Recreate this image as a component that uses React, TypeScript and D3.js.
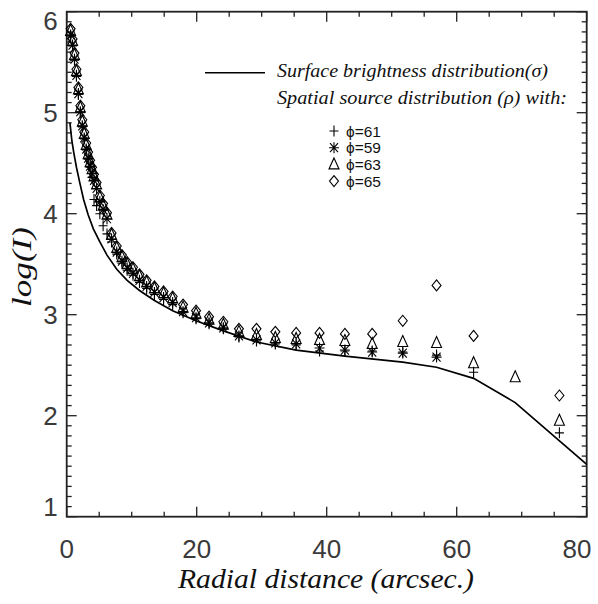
import React from "react";
import * as d3 from "d3";

// Radii (arcsec) at which the source distributions are sampled
const RADII = [0.6, 0.9, 1.2, 1.5, 1.8, 2.1, 2.4, 2.7, 3.0, 3.3, 3.6, 3.9, 4.2, 4.6, 5.1, 5.6, 6.2, 6.9, 7.7, 8.5, 9.3, 10.2, 11.2, 12.3, 13.5, 14.9, 16.3, 17.9, 19.9, 21.9, 24.1, 26.5, 29.2, 32.1, 35.3, 38.9, 42.8, 47.0, 51.7, 56.9, 62.6, 69.0, 75.8];

// phi = 61 (plus)
const PHI61: (number | null)[] = [5.76, 5.66, 5.52, 5.36, 5.18, 5.0, 4.86, 4.74, 4.63, 4.54, 4.46, 4.36, 4.14, 4.08, 4.0, 3.88, 3.8, 3.72, 3.6, 3.51, 3.44, 3.39, 3.32, 3.26, 3.2, 3.15, 3.1, 3.02, 2.96, 2.91, 2.86, 2.78, 2.74, 2.71, 2.7, 2.64, 2.64, 2.64, 2.63, 2.6, 2.43, null, 1.83];
// phi = 59 (asterisk)
const PHI59: (number | null)[] = [5.77, 5.67, 5.53, 5.37, 5.19, 5.01, 4.87, 4.75, 4.64, 4.55, 4.47, 4.4, 4.33, 4.25, 4.12, 4.04, 3.95, 3.75, 3.62, 3.53, 3.46, 3.41, 3.34, 3.28, 3.22, 3.17, 3.12, 3.03, 2.97, 2.92, 2.87, 2.79, 2.75, 2.72, 2.71, 2.67, 2.65, 2.63, 2.62, 2.58, null, null, null];
// phi = 63 (triangle)
const PHI63: (number | null)[] = [5.81, 5.71, 5.57, 5.41, 5.23, 5.05, 4.91, 4.79, 4.68, 4.59, 4.51, 4.44, 4.37, 4.29, 4.16, 4.08, 3.99, 3.79, 3.66, 3.57, 3.5, 3.45, 3.38, 3.32, 3.26, 3.21, 3.16, 3.07, 3.01, 2.95, 2.9, 2.83, 2.8, 2.77, 2.76, 2.75, 2.74, 2.71, 2.73, 2.72, 2.52, 2.38, 1.95];
// phi = 65 (diamond)
const PHI65: (number | null)[] = [5.83, 5.73, 5.59, 5.43, 5.25, 5.07, 4.93, 4.81, 4.7, 4.61, 4.53, 4.46, 4.39, 4.31, 4.18, 4.1, 4.01, 3.81, 3.68, 3.59, 3.52, 3.47, 3.4, 3.34, 3.28, 3.23, 3.18, 3.1, 3.04, 2.98, 2.93, 2.86, 2.86, 2.83, 2.82, 2.82, 2.81, 2.81, 2.94, 3.29, 2.79, null, 2.2];

// Surface brightness distribution (sigma)
const SIGMA_R = [0.5, 0.8, 1.1, 1.5, 2.0, 2.6, 3.3, 4.1, 5.1, 6.2, 7.7, 9.3, 11.2, 13.5, 16.3, 19.9, 24.1, 29.2, 35.3, 42.8, 51.7, 56.9, 62.6, 69.0, 83.4];
const SIGMA_V = [4.9, 4.72, 4.6, 4.46, 4.31, 4.14, 3.99, 3.85, 3.72, 3.59, 3.45, 3.34, 3.24, 3.14, 3.04, 2.94, 2.84, 2.73, 2.65, 2.59, 2.53, 2.48, 2.37, 2.13, 1.33];

const X_TICKS = [0, 20, 40, 60, 80];
const Y_TICKS = [1, 2, 3, 4, 5, 6];

const LEGEND_ITEMS = [
  { sym: "plus", label: "ϕ=61" },
  { sym: "star", label: "ϕ=59" },
  { sym: "tri", label: "ϕ=63" },
  { sym: "dia", label: "ϕ=65" },
];

const W = 598, H = 604;
const L = 66.7, R = 586.7, T = 11.7, B = 516.7;

function symPath(sym: string): string {
  switch (sym) {
    case "plus":
      return "M-4.5,0H4.5M0,-5.5V5.5";
    case "star":
      return "M0,-5.5V5.5M-5,0H5M-4,-4.5L4,4.5M-4,4.5L4,-4.5";
    case "tri":
      return "M0,-6.5L5,4.5L-5,4.5Z";
    case "dia":
      return "M0,-5.5L4.5,0L0,5.5L-4.5,0Z";
  }
  return "";
}

export default function App() {
  const x = d3.scaleLinear().domain([0, 80]).range([L, R]);
  const y = d3.scaleLinear().domain([1, 6]).range([B, T]);

  const line = d3
    .line<number>()
    .x((_, i) => x(SIGMA_R[i]))
    .y((d) => y(d));

  const series = [
    { data: PHI61, sym: "plus" },
    { data: PHI59, sym: "star" },
    { data: PHI63, sym: "tri" },
    { data: PHI65, sym: "dia" },
  ];

  const yMinor = d3.range(10, 61).map((v) => v / 10);
  const xMinor = d3.range(0, 81, 5);
  const axisColor = "#222";
  const tickFont = "'Liberation Sans Narrow', 'Liberation Sans', sans-serif";
  const titleFont = "'Liberation Serif', 'DejaVu Serif', serif";

  return (
    <svg
      width={W}
      height={H}
      style={{ position: "absolute", left: 0, top: 0, background: "#fff" }}
    >
      <defs>
        <clipPath id="plotclip">
          <rect x={L} y={T} width={R - L} height={B - T} />
        </clipPath>
      </defs>

      {/* ticks */}
      <g stroke={axisColor} strokeWidth={1.3}>
        {yMinor.map((v, i) => {
          const major = Math.abs(v - Math.round(v)) < 1e-6;
          const len = major ? 10 : 5;
          return (
            <g key={"yt" + i}>
              <line x1={L} x2={L + len} y1={y(v)} y2={y(v)} />
              <line x1={R} x2={R - len} y1={y(v)} y2={y(v)} />
            </g>
          );
        })}
        {xMinor.map((v, i) => {
          const major = v % 20 === 0;
          const len = major ? 10 : 5;
          return (
            <g key={"xt" + i}>
              <line x1={x(v)} x2={x(v)} y1={B} y2={B - len} />
              <line x1={x(v)} x2={x(v)} y1={T} y2={T + len} />
            </g>
          );
        })}
      </g>
      <rect
        x={L}
        y={T}
        width={R - L}
        height={B - T}
        fill="none"
        stroke={axisColor}
        strokeWidth={1.8}
      />

      {/* tick labels */}
      <g fontFamily={tickFont} fontSize={26} fill="#3a3a3a">
        {Y_TICKS.map((v) => (
          <text
            key={"yl" + v}
            x={L - 9}
            y={Math.min(Math.max(y(v), 21), 507)}
            textAnchor="end"
            dominantBaseline="central"
          >
            {v}
          </text>
        ))}
        {X_TICKS.map((v) => (
          <text
            key={"xl" + v}
            x={Math.min(x(v), 577)}
            y={558}
            textAnchor="middle"
          >
            {v}
          </text>
        ))}
      </g>

      {/* axis titles */}
      <text
        x={326}
        y={588}
        textAnchor="middle"
        fontFamily={titleFont}
        fontStyle="italic"
        fontSize={28}
        textLength={296}
        lengthAdjust="spacingAndGlyphs"
        fill="#111"
      >
        Radial distance (arcsec.)
      </text>
      <text
        transform="translate(31,267) rotate(-90)"
        textAnchor="middle"
        fontFamily={titleFont}
        fontStyle="italic"
        fontSize={27}
        textLength={80}
        lengthAdjust="spacingAndGlyphs"
        fill="#111"
      >
        log(I)
      </text>

      {/* sigma line */}
      <path
        d={line(SIGMA_V) || ""}
        fill="none"
        stroke="#000"
        strokeWidth={1.7}
        clipPath="url(#plotclip)"
      />

      {/* markers */}
      {series.map((s) => (
        <g key={s.sym} fill="none" stroke="#000" strokeWidth={1.1}>
          {s.data.map((v, i) =>
            v == null ? null : (
              <path
                key={i}
                d={symPath(s.sym)}
                transform={`translate(${x(RADII[i])},${y(v)})`}
              />
            )
          )}
        </g>
      ))}

      {/* legend */}
      <line x1={205} x2={265} y1={72.7} y2={72.7} stroke="#000" strokeWidth={1.4} />
      <text
        x={277}
        y={77}
        fontFamily={titleFont}
        fontStyle="italic"
        fontSize={19}
        textLength={271}
        lengthAdjust="spacingAndGlyphs"
        fill="#111"
      >
        Surface brightness distribution(σ)
      </text>
      <text
        x={277}
        y={104}
        fontFamily={titleFont}
        fontStyle="italic"
        fontSize={19}
        textLength={290}
        lengthAdjust="spacingAndGlyphs"
        fill="#111"
      >
        Spatial source distribution (ρ) with:
      </text>
      {LEGEND_ITEMS.map((it, i) => {
        const cy = 131 + i * 16.7;
        return (
          <g key={it.label}>
            <path
              d={symPath(it.sym)}
              transform={`translate(334,${cy})`}
              fill="none"
              stroke="#000"
              strokeWidth={1.1}
            />
            <text
              x={346}
              y={cy + 5.5}
              fontFamily={tickFont}
              fontSize={14.5}
              textLength={35}
              lengthAdjust="spacingAndGlyphs"
              fill="#111"
            >
              {it.label}
            </text>
          </g>
        );
      })}
    </svg>
  );
}
